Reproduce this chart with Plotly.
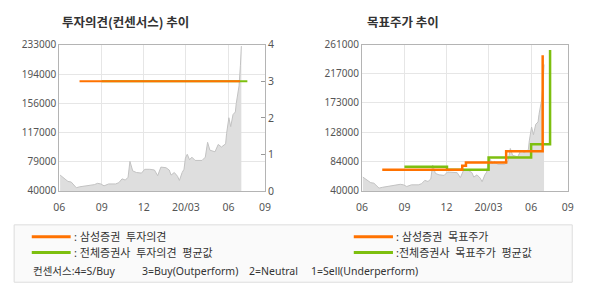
import plotly.graph_objects as go

# ---------------- data ----------------
price_dates = ['2019-06-03','2019-06-10','2019-06-20','2019-06-27','2019-07-08','2019-07-15','2019-07-29',
               '2019-08-16','2019-08-23','2019-08-30','2019-09-06','2019-09-16','2019-10-01','2019-10-08',
               '2019-10-15','2019-10-22','2019-10-28','2019-11-01','2019-11-07','2019-11-15','2019-11-26',
               '2019-12-03','2019-12-14','2019-12-24','2019-12-31','2020-01-07','2020-01-18','2020-01-25',
               '2020-01-29','2020-02-05','2020-02-12','2020-02-16','2020-02-22','2020-02-26','2020-02-29',
               '2020-03-04','2020-03-09','2020-03-14','2020-03-21','2020-04-05','2020-04-12','2020-04-17',
               '2020-04-22','2020-05-03','2020-05-10','2020-05-17','2020-05-26','2020-05-28','2020-06-02',
               '2020-06-06','2020-06-11','2020-06-16','2020-06-18','2020-06-22','2020-06-24','2020-06-27',
               '2020-06-29']
price_values = [61000,57000,52600,51800,44300,45500,46800,
                48400,50100,49300,46800,49300,49300,51000,
                56000,54400,58100,79100,66500,64400,63600,
                68600,68600,67700,60200,71500,70700,67700,
                61000,64400,59400,53900,64400,68600,83300,
                88400,81200,84600,80300,80300,84600,104200,
                93800,91700,101400,98000,102200,115600,136600,
                124900,140800,144200,155500,170200,178600,205900,
                231100]

op_sam_dates = ['2019-07-15', '2020-06-26']
op_sam_values = [3, 3]
op_avg_dates = ['2019-09-01', '2020-07-12']
op_avg_values = [3, 3]

tp_sam_dates = ['2019-07-15', '2020-01-04', '2020-01-12', '2020-04-08', '2020-06-26']
tp_sam_values = [72000, 78000, 83000, 100000, 245000]
tp_avg_dates = ['2019-09-01', '2019-12-02', '2020-03-01', '2020-06-01', '2020-07-12']
tp_avg_values = [76500, 72000, 90500, 110500, 253000]

x_tickvals = ['2019-06-01', '2019-09-01', '2019-12-01', '2020-03-01', '2020-06-01', '2020-08-19']
x_ticktext = ['06', '09', '12', '20/03', '06', '09']
x_range = ['2019-06-01', '2020-08-19']

left_yticks = [40000, 79000, 117000, 156000, 194000, 233000]
right_yticks = [40000, 84000, 128000, 173000, 217000, 261000]
op_ticks = [0, 1, 2, 3, 4]

title_left = '투자의견(컨센서스) 추이'
title_right = '목표주가 추이'
NB = '\u00a0'
leg_row1_left = ':' + NB + '삼성증권' + NB * 2 + '투자의견'
leg_row2_left = ':' + NB + '전체증권사' + NB * 2 + '투자의견' + NB * 2 + '평균값'
leg_row1_right = ':' + NB + '삼성증권' + NB * 2 + '목표주가'
leg_row2_right = ':전체증권사' + NB * 2 + '목표주가' + NB * 2 + '평균값'
leg_row3 = ['컨센서스:4=S/Buy', '3=Buy(Outperform)', '2=Neutral', '1=Sell(Underperform)']

# ---------------- style ----------------
W, H = 590, 300
ORANGE = '#ff7200'
GREEN = '#7dbf0f'
FILL = '#dedede'
PLINE = '#c2c2c2'
GRID = '#e6e6e6'
AXIS = '#b4b4b4'
TICKC = '#555555'
TXT = '#333333'
FONT = 'Noto Sans, Noto Sans CJK KR, sans-serif'
KFONT = 'Noto Sans CJK KR, Noto Sans, sans-serif'

def px(x):
    return x / W

def py(y):
    return 1 - y / H

fig = go.Figure()

# left chart: price area + opinions
fig.add_trace(go.Scatter(x=price_dates, y=price_values, mode='lines', fill='tozeroy',
                         fillcolor=FILL, line=dict(color=PLINE, width=1),
                         xaxis='x', yaxis='y', hoverinfo='skip'))
fig.add_trace(go.Scatter(x=op_avg_dates, y=op_avg_values, mode='lines',
                         line=dict(color=GREEN, width=2.2), xaxis='x', yaxis='y2'))
fig.add_trace(go.Scatter(x=op_sam_dates, y=op_sam_values, mode='lines',
                         line=dict(color=ORANGE, width=2.2), xaxis='x', yaxis='y2'))

# right chart: price area + target prices
fig.add_trace(go.Scatter(x=price_dates, y=price_values, mode='lines', fill='tozeroy',
                         fillcolor=FILL, line=dict(color=PLINE, width=1),
                         xaxis='x2', yaxis='y3', hoverinfo='skip'))
fig.add_trace(go.Scatter(x=tp_avg_dates, y=tp_avg_values, mode='lines', line_shape='hv',
                         line=dict(color=GREEN, width=2.5), xaxis='x2', yaxis='y3'))
fig.add_trace(go.Scatter(x=tp_sam_dates, y=tp_sam_values, mode='lines', line_shape='hv',
                         line=dict(color=ORANGE, width=2.5), xaxis='x2', yaxis='y3'))

xdom_l = [px(54.3), px(264.3)]
xdom_r = [px(363.3), px(573.3)]
ydom = [py(193), py(39.5)]

xcommon = dict(type='date', range=x_range, tickvals=x_tickvals, ticktext=x_ticktext,
               showgrid=True, gridcolor=GRID, gridwidth=1, showline=True, linecolor=AXIS,
               linewidth=1, mirror=True, ticks='', zeroline=False, ticklabelstandoff=6,
               tickfont=dict(family=FONT, size=10.5, color=TICKC))
ycommon = dict(showgrid=True, gridcolor=GRID, gridwidth=1, showline=True, linecolor=AXIS,
               linewidth=1, mirror=True, ticks='', zeroline=False, tickformat='d',
               tickfont=dict(family=FONT, size=10, color=TICKC))

fig.update_layout(
    width=W, height=H, margin=dict(l=0, r=0, t=0, b=0),
    paper_bgcolor='white', plot_bgcolor='white', showlegend=False,
    xaxis=dict(domain=xdom_l, anchor='y', **xcommon),
    yaxis=dict(domain=ydom, anchor='x', range=[left_yticks[0], left_yticks[-1]],
               tickvals=left_yticks, **ycommon),
    yaxis2=dict(overlaying='y', anchor='x', side='right', range=[0, 4], tickvals=op_ticks,
                showgrid=False, showline=True, linecolor=AXIS, zeroline=False,
                ticks='inside', ticklen=4, tickcolor='#999999',
                tickfont=dict(family=FONT, size=10.5, color=TICKC)),
    xaxis2=dict(domain=xdom_r, anchor='y3', **xcommon),
    yaxis3=dict(domain=ydom, anchor='x2', range=[right_yticks[0], right_yticks[-1]],
                tickvals=right_yticks, **ycommon),
)

ann = []
ann.append(dict(text='<b>' + title_left + '</b>', x=px(55), y=py(15), xref='paper', yref='paper',
                xanchor='left', yanchor='middle', showarrow=False,
                font=dict(family=KFONT, size=12.5, color=TXT)))
ann.append(dict(text='<b>' + title_right + '</b>', x=px(366.5), y=py(15), xref='paper', yref='paper',
                xanchor='left', yanchor='middle', showarrow=False,
                font=dict(family=KFONT, size=12.5, color=TXT)))

shapes = []
shapes.append(dict(type='rect', xref='paper', yref='paper', x0=px(8.3), x1=px(578), y0=py(288.7),
                   y1=py(228.5), fillcolor='#fafafa', line=dict(color='#dddddd', width=1), layer='below'))
for (x0, x1, yy, c) in [(26.3, 66, 241, ORANGE), (26.3, 66, 257.5, GREEN),
                         (355, 395, 241, ORANGE), (355, 395, 257.5, GREEN)]:
    shapes.append(dict(type='line', xref='paper', yref='paper', x0=px(x0), x1=px(x1),
                       y0=py(yy), y1=py(yy), line=dict(color=c, width=3)))

for (t, x, yy) in [(leg_row1_left, 67, 241), (leg_row2_left, 67, 257.5),
                   (leg_row1_right, 396, 241), (leg_row2_right, 396, 257.5)]:
    ann.append(dict(text=t, x=px(x), y=py(yy), xref='paper', yref='paper', xanchor='left',
                    yanchor='middle', showarrow=False, font=dict(family=FONT, size=11, color=TXT)))
for (t, x) in zip(leg_row3, [25.5, 136.7, 246.4, 309.4]):
    ann.append(dict(text=t, x=px(x), y=py(276.5), xref='paper', yref='paper', xanchor='left',
                    yanchor='middle', showarrow=False, font=dict(family=FONT, size=10.5, color=TXT)))

fig.update_layout(annotations=ann, shapes=shapes)
fig.write_html('out.html')
